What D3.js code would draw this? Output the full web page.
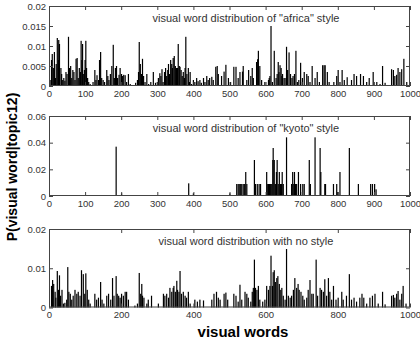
<!DOCTYPE html>
<html>
<head>
<meta charset="utf-8">
<script src="https://cdn.jsdelivr.net/npm/d3@7"></script>
<style>
  body { margin: 0; background: #fff; }
  text { font-family: "Liberation Sans", Arial, sans-serif; }
</style>
</head>
<body>
<svg id="chart" width="420" height="347"></svg>
<script>
// word index / probability pairs
const africaWords = [3,7,9,12,15,18,20,23,26,27,29,33,35,38,41,44,47,50,54,57,60,63,66,69,72,75,78,81,84,87,89,91,93,95,98,100,102,104,107,110,114,122,127,130,133,137,140,143,146,150,154,160,163,166,170,174,178,181,184,187,190,194,197,201,204,207,211,215,220,225,240,245,248,250,253,256,259,262,266,271,276,282,289,295,300,303,307,310,313,316,320,323,326,329,331,334,337,340,342,344,347,350,353,356,358,361,363,366,369,372,375,377,379,382,386,389,391,395,400,404,409,413,418,422,428,432,437,441,445,451,455,462,466,469,478,485,490,497,503,512,518,524,529,536,538,548,553,559,563,566,575,578,580,584,589,598,608,610,612,615,619,624,629,632,635,637,640,643,645,647,651,654,658,661,665,669,673,676,680,684,688,692,697,702,707,714,718,723,729,737,743,749,758,762,765,771,776,789,797,801,806,812,818,826,838,845,852,863,871,880,887,898,908,917,924,931,949,954,958,963,967,972,977,983,991];
const africaProb = [0.0015,0.0065,0.008,0.0045,0.0085,0.002,0.0055,0.012,0.0065,0.0115,0.0105,0.0045,0.003,0.0015,0.002,0.0013,0.0035,0.003,0.0123,0.0045,0.005,0.002,0.004,0.0035,0.0015,0.0068,0.007,0.002,0.0045,0.0035,0.0113,0.0065,0.0105,0.003,0.004,0.0065,0.0113,0.0045,0.002,0.001,0.0005,0.001,0.004,0.0015,0.0027,0.0015,0.0065,0.0085,0.002,0.0015,0.001,0.004,0.0025,0.0015,0.003,0.005,0.0103,0.002,0.0045,0.005,0.002,0.0028,0.0045,0.003,0.0025,0.0028,0.0027,0.001,0.003,0.0005,0.0008,0.0015,0.0035,0.011,0.0055,0.003,0.0068,0.0025,0.001,0.003,0.0005,0.001,0.0035,0.0008,0.001,0.002,0.0032,0.0025,0.0042,0.001,0.0035,0.0045,0.0025,0.004,0.0055,0.003,0.0065,0.0055,0.0045,0.007,0.0075,0.005,0.0045,0.0045,0.0105,0.005,0.0048,0.004,0.0025,0.0035,0.002,0.0045,0.0123,0.003,0.0045,0.001,0.0035,0.0005,0.0015,0.001,0.002,0.0012,0.0015,0.0008,0.002,0.001,0.0025,0.0015,0.002,0.0023,0.0015,0.0048,0.005,0.003,0.0025,0.0036,0.0053,0.002,0.001,0.0048,0.0048,0.002,0.0035,0.0036,0.005,0.0015,0.004,0.0025,0.0045,0.002,0.006,0.0067,0.0088,0.005,0.0015,0.001,0.0015,0.002,0.0025,0.015,0.001,0.0088,0.002,0.003,0.006,0.0035,0.0052,0.0045,0.0025,0.003,0.002,0.002,0.0098,0.004,0.0084,0.003,0.002,0.0025,0.003,0.0088,0.001,0.0015,0.0058,0.002,0.0035,0.003,0.0025,0.001,0.005,0.002,0.0035,0.001,0.0052,0.0052,0.0052,0.0035,0.001,0.001,0.0025,0.004,0.001,0.004,0.0015,0.0022,0.0015,0.003,0.0025,0.003,0.0025,0.001,0.002,0.0035,0.001,0.0005,0.005,0.0008,0.0042,0.004,0.0025,0.0028,0.0045,0.0035,0.0042,0.0068,0.001];

const kyotoWords = [186,201,387,400,501,520,524,527,531,534,538,542,545,548,569,572,577,582,586,603,606,608,611,614,617,620,621,624,627,630,632,635,638,641,644,646,649,658,672,675,678,680,683,686,691,697,703,707,721,724,737,751,753,764,766,788,797,800,806,832,857,891,896,902,906];
const kyotoProb = [0.037,0.002,0.0095,0.002,0.002,0.009,0.009,0.009,0.009,0.009,0.009,0.009,0.018,0.009,0.027,0.009,0.009,0.009,0.009,0.018,0.009,0.009,0.009,0.009,0.009,0.027,0.036,0.027,0.009,0.018,0.027,0.009,0.018,0.009,0.009,0.018,0.009,0.044,0.009,0.018,0.009,0.018,0.009,0.009,0.018,0.009,0.009,0.009,0.027,0.009,0.044,0.036,0.018,0.009,0.009,0.009,0.009,0.003,0.018,0.036,0.009,0.009,0.009,0.009,0.005];

const noneWords = [7,10,13,17,19,23,26,29,32,36,40,44,49,52,55,59,63,67,72,77,81,86,90,95,99,102,106,110,114,127,132,137,143,147,152,160,165,171,176,180,186,189,193,197,201,206,211,215,220,238,245,250,254,257,259,263,271,275,284,303,317,321,326,331,335,340,344,346,350,354,356,360,363,367,372,377,381,386,391,404,411,418,428,451,457,464,469,474,485,490,495,512,518,524,529,534,543,548,552,559,563,566,569,572,576,580,584,592,598,603,608,612,615,619,621,624,627,631,634,638,642,645,649,654,658,663,668,672,677,681,686,690,693,698,703,707,714,718,723,728,732,740,744,751,755,760,764,769,774,778,783,788,795,801,811,815,824,832,838,845,852,861,867,872,880,889,896,903,912,924,931,949,954,958,963,967,972,977,981,989];
const noneProb = [0.0055,0.007,0.006,0.004,0.0025,0.0093,0.0045,0.0082,0.003,0.0045,0.001,0.0012,0.002,0.0103,0.004,0.0035,0.002,0.003,0.0045,0.0035,0.004,0.003,0.0095,0.0085,0.0035,0.0087,0.0045,0.002,0.001,0.0035,0.002,0.0025,0.0065,0.002,0.001,0.003,0.0035,0.002,0.0075,0.003,0.008,0.0035,0.003,0.0025,0.0035,0.003,0.004,0.004,0.002,0.0005,0.001,0.0088,0.0035,0.006,0.003,0.0025,0.001,0.002,0.003,0.001,0.0035,0.003,0.0035,0.0025,0.005,0.004,0.005,0.0055,0.004,0.0068,0.0045,0.004,0.0093,0.0035,0.004,0.003,0.0025,0.004,0.001,0.002,0.0015,0.002,0.0018,0.002,0.0035,0.004,0.0025,0.002,0.0035,0.0038,0.002,0.0035,0.003,0.0015,0.0058,0.002,0.004,0.0035,0.0025,0.0015,0.004,0.005,0.0122,0.005,0.0045,0.0055,0.002,0.0015,0.002,0.0055,0.0045,0.0055,0.0132,0.0055,0.009,0.0095,0.0065,0.0075,0.008,0.006,0.0045,0.005,0.003,0.002,0.0149,0.003,0.0025,0.003,0.0045,0.0075,0.005,0.006,0.0045,0.004,0.003,0.002,0.0025,0.0045,0.007,0.0035,0.0035,0.0122,0.003,0.005,0.0045,0.004,0.0072,0.003,0.0075,0.004,0.002,0.0055,0.002,0.0025,0.004,0.002,0.003,0.0085,0.002,0.0025,0.0015,0.0025,0.0035,0.0025,0.001,0.0025,0.003,0.0035,0.001,0.004,0.0008,0.003,0.0032,0.0025,0.0035,0.0042,0.002,0.0035,0.0055,0.001];

const titles = ['visual word distribution of "africa" style', 'visual word distribution of "kyoto" style', 'visual word distribution with no style'];
const yTicks1 = [0, 0.005, 0.01, 0.015, 0.02];
const yTicks2 = [0, 0.02, 0.04, 0.06];
const yTicks3 = [0, 0.01, 0.02];
const xTicksTop = [0, 100, 200, 300, 400, 500, 600, 700, 800, 900, 1000];
const xTicksBottom = [0, 200, 400, 600, 800, 1000];

const svg = d3.select('#chart');
const left = 49, right = 410;

const panels = [
  {words: africaWords, prob: africaProb, title: titles[0], yMax: 0.02, yTicks: yTicks1, xTicks: xTicksTop, top: 6, bottom: 86},
  {words: kyotoWords, prob: kyotoProb, title: titles[1], yMax: 0.06, yTicks: yTicks2, xTicks: xTicksTop, top: 116, bottom: 196},
  {words: noneWords, prob: noneProb, title: titles[2], yMax: 0.02, yTicks: yTicks3, xTicks: xTicksBottom, top: 229, bottom: 307.5}
];

panels.forEach(p => {
  const x = d3.scaleLinear().domain([0, 1000]).range([left, right]);
  const y = d3.scaleLinear().domain([0, p.yMax]).range([p.bottom, p.top]);
  const g = svg.append('g');

  // bars, thin and antialiased like the original
  const data = p.words.map((w, i) => ({w: w, v: p.prob[i]}));
  g.append('g').selectAll('rect').data(data).join('rect')
    .attr('x', d => x(d.w) - 0.6)
    .attr('width', 1.2)
    .attr('y', d => y(d.v))
    .attr('height', d => y(0) - y(d.v))
    .attr('fill', '#000');

  const fmt = d => d3.format('~g')(d);

  // bottom + left axes with inward ticks
  const ax = g.append('g').attr('transform', `translate(0,${p.bottom})`)
    .call(d3.axisBottom(x).tickValues(p.xTicks).tickSize(-4).tickPadding(4).tickFormat(fmt));
  const ay = g.append('g').attr('transform', `translate(${left},0)`)
    .call(d3.axisLeft(y).tickValues(p.yTicks).tickSize(-4).tickPadding(3).tickFormat(fmt));
  // mirrored ticks on top + right
  const at = g.append('g').attr('transform', `translate(0,${p.top})`)
    .call(d3.axisTop(x).tickValues(p.xTicks).tickSize(-4).tickFormat(''));
  const ar = g.append('g').attr('transform', `translate(${right},0)`)
    .call(d3.axisRight(y).tickValues(p.yTicks).tickSize(-4).tickFormat(''));

  [ax, ay, at, ar].forEach(a => {
    a.select('.domain').remove();
    a.selectAll('line').attr('stroke', '#444');
    a.selectAll('text').attr('fill', '#333').style('font-size', '9.5px')
      .style('font-family', '"Liberation Sans", Arial, sans-serif');
  });

  g.append('rect')
    .attr('x', left + 0.5).attr('y', p.top + 0.5)
    .attr('width', right - left - 1).attr('height', p.bottom - p.top - 1)
    .attr('fill', 'none').attr('stroke', '#444').attr('stroke-width', 1);

  g.append('text')
    .attr('x', 246).attr('y', p.top + 16)
    .attr('text-anchor', 'middle')
    .attr('fill', '#333')
    .style('font-size', '11px')
    .text(p.title);
});

svg.append('text')
  .attr('x', 243).attr('y', 337)
  .attr('text-anchor', 'middle')
  .style('font-size', '15px').style('font-weight', 'bold')
  .text('visual words');

svg.append('text')
  .attr('transform', 'translate(17,167) rotate(-90)')
  .attr('text-anchor', 'middle')
  .style('font-size', '14px').style('font-weight', 'bold')
  .text('P(visual word|topic12)');
</script>
</body>
</html>
